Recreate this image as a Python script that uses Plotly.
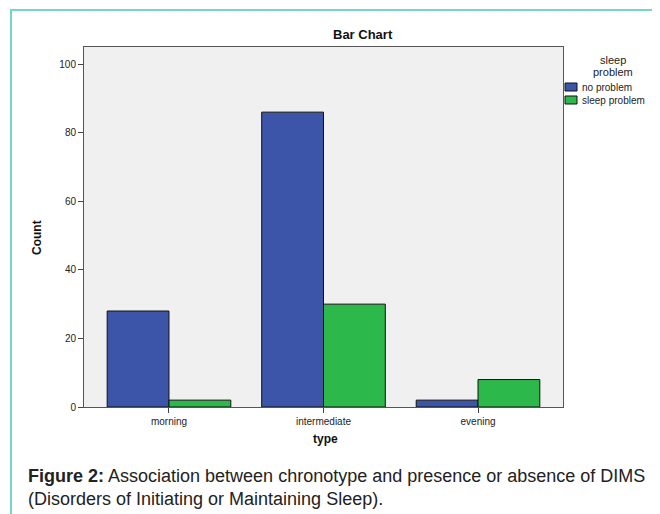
import plotly.graph_objects as go

categories = ["morning", "intermediate", "evening"]
series_names = ["no problem", "sleep problem"]
no_problem = [28, 86, 2]
sleep_problem = [2, 30, 8]
y_ticks = [0, 20, 40, 60, 80, 100]

BLUE = "#3d55a8"
GREEN = "#2db84b"
BG = "#f0f0f0"
TEAL = "#72d7c8"
FONT = "Liberation Sans, Arial, sans-serif"

OFF = 8  # page body margin
SW, SH = 660, 514  # screen size
W, H = SW - OFF, SH - OFF
L, R, T, B = 84, 563, 47, 407  # plot area in screen pixels
PW, PH = R - L, B - T


def px(x):
    return (x - L) / PW


def py(y):
    return (B - y) / PH


fig = go.Figure()
for name, vals, col in [(series_names[0], no_problem, BLUE), (series_names[1], sleep_problem, GREEN)]:
    fig.add_trace(go.Bar(
        x=categories, y=vals, name=name,
        marker=dict(color=col, line=dict(color="#111111", width=1)),
        showlegend=False,
    ))

fig.update_layout(
    width=W, height=H,
    margin=dict(l=L - OFF, r=SW - R, t=T - OFF, b=SH - B, pad=0),
    paper_bgcolor="white", plot_bgcolor=BG,
    barmode="group", bargap=0.2, bargroupgap=0,
    font=dict(family=FONT, color="#222222"),
    xaxis=dict(
        range=[-0.55, 2.55], showgrid=False, zeroline=False,
        showline=True, mirror=True, linecolor="#555555", linewidth=1,
        ticks="outside", ticklen=5, tickcolor="#444444",
        tickfont=dict(size=10, color="#222222"),
    ),
    yaxis=dict(
        range=[0, 105], showgrid=False, zeroline=False,
        tickvals=y_ticks,
        showline=True, mirror=True, linecolor="#555555", linewidth=1,
        ticks="outside", ticklen=5, tickcolor="#444444",
        tickfont=dict(size=10, color="#222222"),
    ),
)

ann = []
ann.append(dict(text="<b>Bar Chart</b>", x=px(363), y=py(35), xref="paper", yref="paper",
                showarrow=False, font=dict(size=13, color="#111111"), xanchor="center", yanchor="middle"))
ann.append(dict(text="<b>Count</b>", x=px(37), y=py(238), xref="paper", yref="paper", textangle=-90,
                showarrow=False, font=dict(size=12, color="#111111"), xanchor="center", yanchor="middle"))
ann.append(dict(text="<b>type</b>", x=px(325), y=py(439), xref="paper", yref="paper",
                showarrow=False, font=dict(size=12, color="#111111"), xanchor="center", yanchor="middle"))
# legend
for txt, yy in [("sleep", 60), ("problem", 72)]:
    ann.append(dict(text=txt, x=px(613), y=py(yy), xref="paper", yref="paper",
                    showarrow=False, font=dict(size=11, color="#222222"), xanchor="center", yanchor="middle"))
shapes = []
for i, (name, col) in enumerate(zip(series_names, [BLUE, GREEN])):
    yc = 87 + i * 13
    shapes.append(dict(type="rect", xref="paper", yref="paper",
                       x0=px(565), x1=px(577), y0=py(yc - 4), y1=py(yc + 4),
                       fillcolor=col, line=dict(color="#111111", width=1)))
    ann.append(dict(text=name, x=px(580), y=py(yc), xref="paper", yref="paper",
                    showarrow=False, font=dict(size=10, color="#222222"), xanchor="left", yanchor="middle"))
# caption
ann.append(dict(text="<b>Figure 2:</b> Association between chronotype and presence or absence of DIMS",
                x=px(26), y=py(476), xref="paper", yref="paper", showarrow=False,
                font=dict(size=18, color="#222222"), xanchor="left", yanchor="middle"))
ann.append(dict(text="(Disorders of Initiating or Maintaining Sleep).",
                x=px(26), y=py(499), xref="paper", yref="paper", showarrow=False,
                font=dict(size=18, color="#222222"), xanchor="left", yanchor="middle"))
# frame
shapes.append(dict(type="rect", xref="paper", yref="paper",
                   x0=px(11), x1=px(720), y0=py(560), y1=py(10),
                   line=dict(color=TEAL, width=2), fillcolor="rgba(0,0,0,0)", layer="below"))

fig.update_layout(annotations=ann, shapes=shapes)
fig.write_html("out.html")
